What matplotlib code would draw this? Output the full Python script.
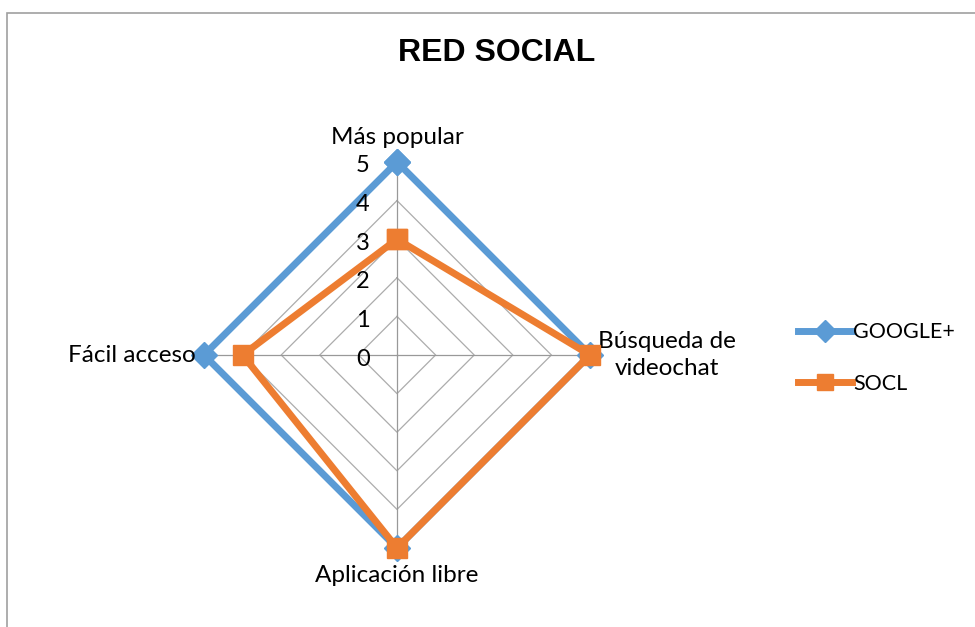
import numpy as np
import matplotlib
matplotlib.use("Agg")
import matplotlib.pyplot as plt
from matplotlib.patches import Rectangle

# data
categories = ["Más popular", "Búsqueda de\nvideochat", "Aplicación libre", "Fácil acceso"]
google = [5, 5, 5, 5]
socl = [3, 5, 5, 4]
levels = [0, 1, 2, 3, 4, 5]

BLUE = "#5B9BD5"
ORANGE = "#ED7D31"
GRID = "#ACACAC"
SPOKE = "#999999"

plt.rcParams["font.family"] = ["Lato", "DejaVu Sans"]

fig = plt.figure(figsize=(9.75, 6.27), dpi=100)
fig.patches.append(Rectangle((7 / 975, -0.1), 1.2, (627 - 13) / 627 + 0.1,
                             transform=fig.transFigure, fill=False,
                             edgecolor="#A0A0A0", lw=1.2))

cx, cy, rad = 397, 355, 193
ax = fig.add_axes([(cx - rad) / 975, (627 - cy - rad) / 627, 2 * rad / 975, 2 * rad / 627],
                  projection="polar")
ax.set_theta_offset(np.pi / 2)
ax.set_theta_direction(-1)
ax.set_ylim(0, max(levels))
ax.set_axis_off()

n = len(categories)
theta = np.arange(n) * 2 * np.pi / n
closed = np.append(theta, theta[0])

# polygon grid
for lv in levels[1:]:
    ax.plot(closed, [lv] * (n + 1), color=GRID, lw=0.9, zorder=1)
for t in theta:
    ax.plot([t, t], [0, max(levels)], color=SPOKE, lw=0.9, zorder=1)

ax.plot(closed, google + google[:1], color=BLUE, lw=5, marker="D", ms=13,
        label="GOOGLE+", zorder=3, solid_joinstyle="miter", clip_on=False)
ax.plot(closed, socl + socl[:1], color=ORANGE, lw=5, marker="s", ms=14,
        label="SOCL", zorder=4, solid_joinstyle="miter", clip_on=False)

# radial tick labels
for lv in levels:
    ax.annotate(str(lv), xy=(0, lv), xytext=(-34, -4), textcoords="offset pixels",
                ha="center", va="center", fontsize=17, color="#000000")

# category labels
offsets = [((0, 24), "center", "center"),
           ((8, 0), "left", "center"),
           ((0, -27), "center", "center"),
           ((-8, 0), "right", "center")]
for t, lab, (off, ha, va) in zip(theta, categories, offsets):
    ax.annotate(lab, xy=(t, max(levels)), xytext=off, textcoords="offset pixels",
                ha=ha, va=va, fontsize=17.5, multialignment="center",
                annotation_clip=False, linespacing=1.3)

fig.text(497 / 975, 1 - 53 / 627, "RED SOCIAL", ha="center", va="center",
         fontsize=23, fontweight="bold", family="Liberation Sans")

leg = fig.legend(loc="center left", bbox_to_anchor=(779 / 975, 1 - 358 / 627),
                 frameon=False, fontsize=15.5, handlelength=2.5, labelspacing=1.45,
                 handletextpad=0.05, markerscale=0.85)

fig.savefig("out.png", dpi=100)
